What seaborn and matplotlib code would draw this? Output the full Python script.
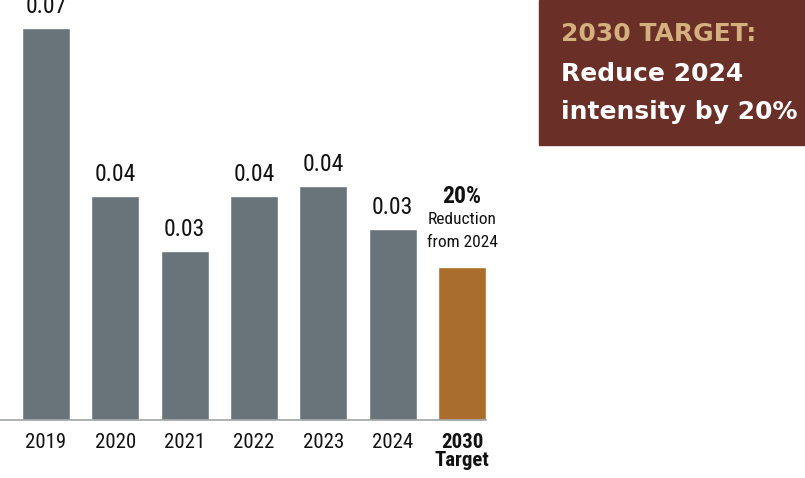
import matplotlib
matplotlib.use("Agg")
import matplotlib.pyplot as plt
import seaborn as sns
import pandas as pd
from matplotlib import font_manager

categories = ["2019", "2020", "2021", "2022", "2023", "2024", "2030\nTarget"]
values = [0.0700, 0.0400, 0.0302, 0.0400, 0.0418, 0.0341, 0.0273]
bar_colors = ["#68747a"] * 6 + ["#a96e2c"]
value_labels = ["0.07", "0.04", "0.03", "0.04", "0.04", "0.03", ""]

sns.set_theme(style="white")
names = {f.name for f in font_manager.fontManager.ttflist}
prefs = ["Roboto Condensed", "Open Sans Condensed", "Liberation Sans Narrow",
         "Arial Narrow", "Liberation Sans"]
cond = next((p for p in prefs if p in names), "DejaVu Sans")
plt.rcParams["font.family"] = [cond, "DejaVu Sans"]

df = pd.DataFrame({"cat": categories, "val": values})

fig = plt.figure(figsize=(8.05, 4.78), dpi=100)
ax = fig.add_axes([0, 58 / 478, 486 / 805, 420 / 478])
sns.barplot(data=df, x="cat", y="val", hue="cat", palette=bar_colors,
            width=0.69, legend=False, ax=ax, saturation=1)
ax.set_xlim(-0.664, 6.346)
ax.set_ylim(0, 0.0700 * 420 / 392)
ax.set_xlabel("")
ax.set_ylabel("")
ax.set_yticks([])
for s in ["top", "right", "left"]:
    ax.spines[s].set_visible(False)
ax.spines["bottom"].set_color("#a0a4a6")
ax.spines["bottom"].set_linewidth(1.2)
ax.tick_params(axis="x", length=0, pad=9, labelsize=15, colors="#111111")
for lbl in ax.get_xticklabels():
    lbl.set_linespacing(1.0)
    if "Target" in lbl.get_text():
        lbl.set_fontweight("bold")

for i, (v, t) in enumerate(zip(values, value_labels)):
    if t:
        ax.annotate(t, (i, v), xytext=(0, 7), textcoords="offset points",
                    ha="center", va="bottom", fontsize=17, color="#111111")

ax.annotate("20%", (6, values[6]), xytext=(0, 51), textcoords="offset points",
            ha="center", va="center", fontsize=17, fontweight="bold", color="#111111")
ax.annotate("Reduction", (6, values[6]), xytext=(0, 34.5), textcoords="offset points",
            ha="center", va="center", fontsize=12.5, color="#111111")
ax.annotate("from 2024", (6, values[6]), xytext=(0, 18), textcoords="offset points",
            ha="center", va="center", fontsize=12.5, color="#111111")

# target box
fig.patches.append(plt.Rectangle((539 / 805, 1 - 145 / 478), 266 / 805, 145 / 478,
                                 transform=fig.transFigure, color="#6a2f26", zorder=0))
bold = ["DejaVu Sans"]
fig.text(561 / 805, 1 - 34 / 478, "2030 TARGET:", family=bold, fontweight="bold",
         fontsize=18, color="#d4b07f", va="center", ha="left")
fig.text(561 / 805, 1 - 74 / 478, "Reduce 2024", family=bold, fontweight="bold",
         fontsize=18, color="white", va="center", ha="left")
fig.text(561 / 805, 1 - 112 / 478, "intensity by 20%", family=bold, fontweight="bold",
         fontsize=18, color="white", va="center", ha="left")

fig.savefig("out.png", dpi=100)
